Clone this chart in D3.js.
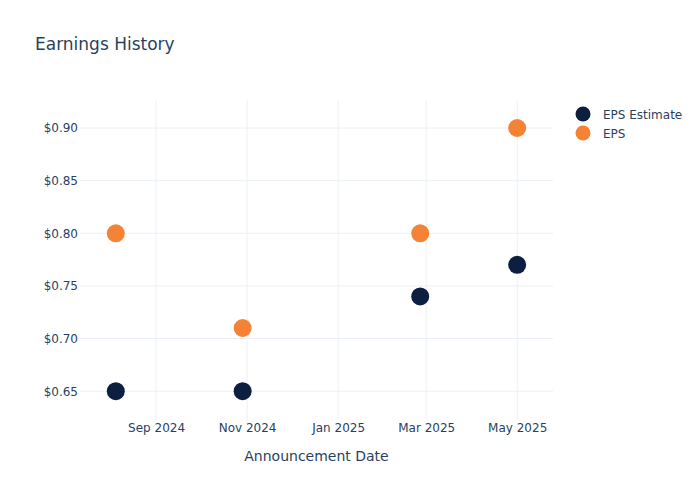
<!DOCTYPE html>
<html>
<head>
<meta charset="utf-8">
<script src="https://cdn.jsdelivr.net/npm/d3@7"></script>
<style>
  body { margin: 0; background: #fff; }
  text { font-family: "DejaVu Sans", "Open Sans", sans-serif; fill: #2a3f5f; }
</style>
</head>
<body>
<script>
// data
var dates = ["2024-08-05", "2024-10-29", "2025-02-25", "2025-05-01"];
var epsEstimate = [0.65, 0.65, 0.74, 0.77];
var eps = [0.80, 0.71, 0.80, 0.90];
var yTicks = [0.65, 0.70, 0.75, 0.80, 0.85, 0.90];
var xTicks = ["2024-09-01", "2024-11-01", "2025-01-01", "2025-03-01", "2025-05-01"];

var width = 700, height = 500;
var margin = {top: 100, right: 147, bottom: 80, left: 80};
var parse = d3.timeParse("%Y-%m-%d");

var svg = d3.select("body").append("svg")
    .attr("width", width)
    .attr("height", height);

var x = d3.scaleTime()
    .domain([parse("2024-07-12"), parse("2025-05-25")])
    .range([margin.left, width - margin.right]);

var y = d3.scaleLinear()
    .domain([0.6226, 0.9266])
    .range([height - margin.bottom, margin.top]);

// grid
svg.append("g").selectAll("line").data(xTicks).enter().append("line")
    .attr("x1", function(d) { return x(parse(d)); })
    .attr("x2", function(d) { return x(parse(d)); })
    .attr("y1", margin.top)
    .attr("y2", height - margin.bottom)
    .style("stroke", "#ebf0f8")
    .style("stroke-width", 1);

svg.append("g").selectAll("line").data(yTicks).enter().append("line")
    .attr("x1", margin.left)
    .attr("x2", width - margin.right)
    .attr("y1", function(d) { return y(d); })
    .attr("y2", function(d) { return y(d); })
    .style("stroke", "#ebf0f8")
    .style("stroke-width", 1);

// axes
var xAxis = svg.append("g")
    .attr("transform", "translate(0," + (height - margin.bottom) + ")")
    .call(d3.axisBottom(x)
      .tickValues(xTicks.map(parse))
      .tickFormat(d3.timeFormat("%b %Y"))
      .tickSize(0)
      .tickPadding(3));
xAxis.select(".domain").remove();
xAxis.selectAll("text").style("font-size", "12px").style("fill", "#2a3f5f");

var yAxis = svg.append("g")
    .attr("transform", "translate(" + margin.left + ",0)")
    .call(d3.axisLeft(y)
      .tickValues(yTicks)
      .tickFormat(function(d) { return "$" + d.toFixed(2); })
      .tickSize(0)
      .tickPadding(2));
yAxis.select(".domain").remove();
yAxis.selectAll("text").style("font-size", "12px").style("fill", "#2a3f5f");

svg.append("text")
    .attr("x", (margin.left + width - margin.right) / 2)
    .attr("y", 461)
    .attr("text-anchor", "middle")
    .style("font-size", "14px")
    .text("Announcement Date");

svg.append("text")
    .attr("x", 35)
    .attr("y", 50)
    .style("font-size", "17px")
    .text("Earnings History");

// markers
var series = [
  {name: "EPS Estimate", values: epsEstimate, color: "#0c1f40"},
  {name: "EPS", values: eps, color: "#f58235"}
];

series.forEach(function(s) {
  svg.append("g").selectAll("circle").data(s.values).enter().append("circle")
      .attr("cx", function(d, i) { return x(parse(dates[i])); })
      .attr("cy", function(d) { return y(d); })
      .attr("r", 9)
      .style("fill", s.color);
});

// legend
var legend = svg.append("g").attr("transform", "translate(583,114)");
var item = legend.selectAll("g").data(series).enter().append("g")
    .attr("transform", function(d, i) { return "translate(0," + (i * 19) + ")"; });
item.append("circle")
    .attr("r", 7.5)
    .style("fill", function(d) { return d.color; });
item.append("text")
    .attr("x", 20)
    .attr("y", 4.5)
    .style("font-size", "12px")
    .text(function(d) { return d.name; });
</script>
</body>
</html>
